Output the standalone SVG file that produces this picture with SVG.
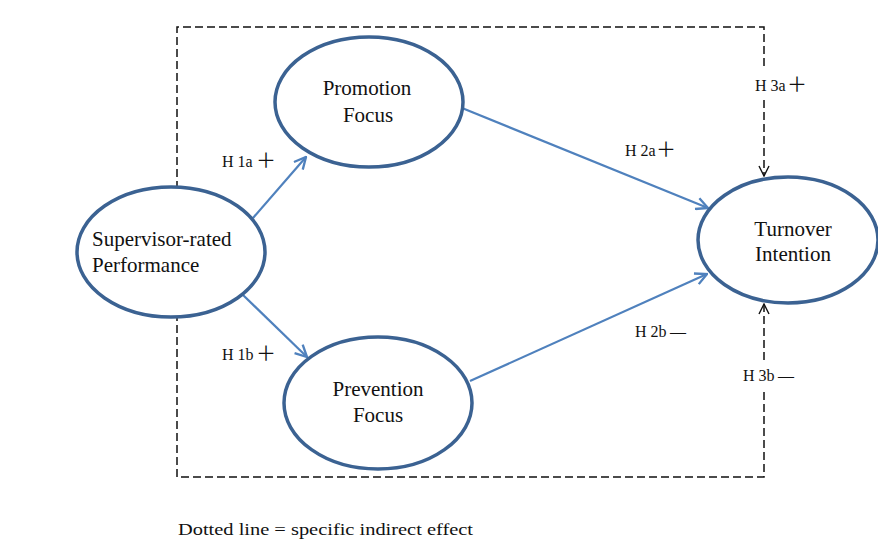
<svg xmlns="http://www.w3.org/2000/svg" width="878" height="539" viewBox="0 0 878 539">
<style>
.node{fill:#fff;stroke:#3b6292;stroke-width:3.5}
.lbl{font-family:"Liberation Serif","Times New Roman",serif;font-size:21px;fill:#111}
.hyp{font-family:"Liberation Serif","Times New Roman",serif;font-size:16px;fill:#111}
.sym{font-family:"Noto Sans CJK SC","DejaVu Sans",sans-serif;font-size:20px;fill:#111}
.dash{fill:none;stroke:#111;stroke-width:1.5;stroke-dasharray:8 4}
.blue{fill:none;stroke:#4f81bd;stroke-width:2.2}
</style>
<defs>
<marker id="ab" viewBox="0 0 12 12" refX="11" refY="6" markerWidth="14" markerHeight="14" markerUnits="userSpaceOnUse" orient="auto">
<path d="M1,1 L11,6 L1,11" fill="none" stroke="#4f81bd" stroke-width="2"/>
</marker>
<marker id="ak" viewBox="0 0 12 12" refX="11" refY="6" markerWidth="12" markerHeight="12" markerUnits="userSpaceOnUse" orient="auto">
<path d="M1,1 L11,6 L1,11" fill="none" stroke="#111" stroke-width="1.4"/>
</marker>
</defs>
<rect width="878" height="539" fill="#fff"/>
<g id="connectors">
<path class="dash" d="M764,66 L764,27 L177,27 L177,477 L764,477 L764,390"/>
<path class="dash" d="M764,100 L764,176" marker-end="url(#ak)"/>
<path class="dash" d="M764,360 L764,304" marker-end="url(#ak)"/>
<line class="blue" x1="253" y1="218" x2="306" y2="157" marker-end="url(#ab)"/>
<line class="blue" x1="243" y1="295" x2="307" y2="357" marker-end="url(#ab)"/>
<line class="blue" x1="462" y1="108" x2="708" y2="208" marker-end="url(#ab)"/>
<line class="blue" x1="470" y1="381" x2="707" y2="274" marker-end="url(#ab)"/>
</g>
<g id="supervisor">
<ellipse class="node" cx="171" cy="252" rx="94" ry="65"/>
<text class="lbl" x="92" y="246">Supervisor-rated</text>
<text class="lbl" x="92" y="272">Performance</text>
</g>
<g id="promotion">
<ellipse class="node" cx="369" cy="102" rx="94" ry="65"/>
<text class="lbl" x="367" y="95" text-anchor="middle">Promotion</text>
<text class="lbl" x="368" y="122" text-anchor="middle">Focus</text>
</g>
<g id="prevention">
<ellipse class="node" cx="378" cy="403" rx="94" ry="66"/>
<text class="lbl" x="378" y="396" text-anchor="middle">Prevention</text>
<text class="lbl" x="378" y="422" text-anchor="middle">Focus</text>
</g>
<g id="turnover">
<ellipse class="node" cx="788" cy="240" rx="90" ry="63"/>
<text class="lbl" x="793" y="236" text-anchor="middle">Turnover</text>
<text class="lbl" x="793" y="261" text-anchor="middle">Intention</text>
</g>
<g id="labels">
<text class="hyp" x="222" y="167">H 1a<tspan class="sym" x="256" y="168">＋</tspan></text>
<text class="hyp" x="222" y="360">H 1b<tspan class="sym" x="256" y="361">＋</tspan></text>
<text class="hyp" x="625" y="156">H 2a<tspan class="sym" x="656" y="157">＋</tspan></text>
<text class="hyp" x="635" y="337">H 2b<tspan x="670">—</tspan></text>
<text class="hyp" x="755" y="91">H 3a<tspan class="sym" x="787" y="92">＋</tspan></text>
<text class="hyp" x="743" y="381">H 3b<tspan x="778">—</tspan></text>
<text class="hyp" x="178" y="535" font-size="17" textLength="295" lengthAdjust="spacingAndGlyphs">Dotted line  = specific indirect effect</text>
</g>
</svg>
